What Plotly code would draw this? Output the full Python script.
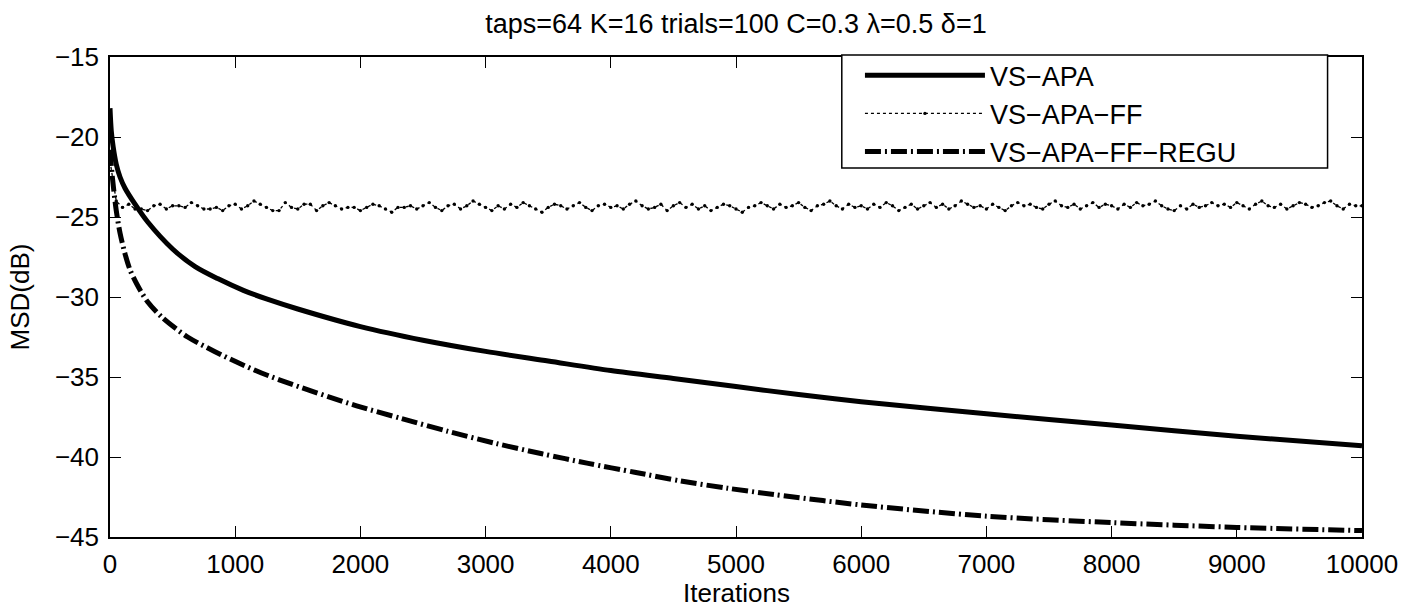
import plotly.graph_objects as go

# ---- data ----
apa_iter = [0, 10, 25, 50, 80, 120, 200, 300, 500, 680, 860, 1070, 1250, 1500, 2000, 2500,
            3000, 3500, 4000, 4500, 5000, 5500, 6000, 7000, 8000, 9000, 10000]
apa_msd = [-18.2, -19.6, -20.6, -21.7, -22.5, -23.2, -24.2, -25.3, -27.0, -28.1, -28.85,
           -29.6, -30.12, -30.75, -31.85, -32.7, -33.4, -34.0, -34.6, -35.1, -35.6, -36.1,
           -36.55, -37.3, -38.0, -38.7, -39.3]

regu_iter = [0, 20, 50, 80, 120, 160, 215, 300, 420, 620, 835, 1020, 1210, 1450, 1970, 2330,
             2700, 3080, 3450, 3820, 4190, 4560, 4930, 5310, 6000, 7000, 8000, 9000, 10000]
regu_msd = [-20.8, -22.6, -24.6, -26.0, -27.3, -28.3, -29.2, -30.3, -31.3, -32.5, -33.4,
            -34.1, -34.75, -35.45, -36.8, -37.6, -38.4, -39.15, -39.8, -40.4, -40.95, -41.5,
            -41.95, -42.35, -43.0, -43.7, -44.1, -44.4, -44.6]

ff_iter = list(range(0, 10001, 50))
ff_msd = [
    -21.5, -24.0, -24.4, -24.2, -24.5, -24.5, -24.6, -24.3, -24.2, -24.5,
    -24.3, -24.3, -24.4, -24.1, -24.3, -24.5, -24.5, -24.4, -24.6, -24.3,
    -24.2, -24.5, -24.3, -24.0, -24.2, -24.4, -24.6, -24.6, -24.1, -24.4,
    -24.5, -24.2, -24.2, -24.6, -24.3, -24.1, -24.3, -24.5, -24.4, -24.4,
    -24.6, -24.4, -24.2, -24.3, -24.5, -24.7, -24.4, -24.4, -24.3, -24.5,
    -24.3, -24.1, -24.4, -24.6, -24.3, -24.2, -24.5, -24.3, -24.0, -24.2,
    -24.4, -24.6, -24.3, -24.5, -24.2, -24.4, -24.1, -24.3, -24.5, -24.7,
    -24.4, -24.2, -24.3, -24.5, -24.3, -24.1, -24.4, -24.6, -24.3, -24.2,
    -24.4, -24.3, -24.5, -24.2, -24.0, -24.3, -24.5, -24.4, -24.2, -24.6,
    -24.3, -24.1, -24.4, -24.2, -24.5, -24.3, -24.6, -24.4, -24.2, -24.3,
    -24.5, -24.7, -24.4, -24.3, -24.1, -24.3, -24.5, -24.2, -24.4, -24.3,
    -24.1, -24.4, -24.6, -24.3, -24.2, -24.0, -24.3, -24.5, -24.2, -24.4,
    -24.3, -24.5, -24.2, -24.4, -24.1, -24.3, -24.6, -24.4, -24.2, -24.5,
    -24.3, -24.1, -24.4, -24.2, -24.5, -24.3, -24.0, -24.2, -24.4, -24.3,
    -24.5, -24.2, -24.4, -24.6, -24.3, -24.1, -24.3, -24.2, -24.4, -24.5,
    -24.2, -24.0, -24.3, -24.4, -24.2, -24.5, -24.3, -24.1, -24.4, -24.2,
    -24.3, -24.5, -24.2, -24.4, -24.1, -24.3, -24.2, -24.0, -24.3, -24.5,
    -24.6, -24.3, -24.5, -24.2, -24.4, -24.3, -24.1, -24.3, -24.2, -24.4,
    -24.1, -24.3, -24.5, -24.2, -24.0, -24.3, -24.4, -24.2, -24.5, -24.3,
    -24.1, -24.2, -24.4, -24.3, -24.1, -24.0, -24.3, -24.5, -24.2, -24.3,
    -24.3,
]

x_ticks = [0, 1000, 2000, 3000, 4000, 5000, 6000, 7000, 8000, 9000, 10000]
x_tick_text = ["0", "1000", "2000", "3000", "4000", "5000", "6000", "7000", "8000", "9000", "10000"]
y_ticks = [-45, -40, -35, -30, -25, -20, -15]

title_text = "taps=64 K=16 trials=100 C=0.3 λ=0.5 δ=1"
x_title = "Iterations"
y_title = "MSD(dB)"

FONT = "Liberation Sans, Arial, Helvetica, sans-serif"

fig = go.Figure()
fig.add_trace(go.Scatter(
    x=apa_iter, y=apa_msd, name="VS−APA", mode="lines",
    line=dict(color="black", width=5, shape="spline", smoothing=0.8)))
fig.add_trace(go.Scatter(
    x=ff_iter, y=ff_msd, name="VS−APA−FF", mode="lines+markers",
    line=dict(color="black", width=1.3, dash="dot"),
    marker=dict(color="black", size=3.4, symbol="circle")))
fig.add_trace(go.Scatter(
    x=regu_iter, y=regu_msd, name="VS−APA−FF−REGU", mode="lines",
    line=dict(color="black", width=5, dash="16px,4px,2px,4px", shape="spline", smoothing=0.8)))

axis_common = dict(
    showline=True, linecolor="black", linewidth=1.5, mirror="ticks",
    ticks="inside", ticklen=11, tickwidth=1, tickcolor="black",
    showgrid=False, zeroline=False,
    tickfont=dict(family=FONT, size=26, color="black"),
)

fig.update_xaxes(range=[0, 10000], tickvals=x_ticks, ticktext=x_tick_text,
                 ticklabelstandoff=3, **axis_common)
fig.update_yaxes(range=[-45, -15], tickvals=y_ticks, ticklabelstandoff=4,
                 title=dict(text=y_title, font=dict(family=FONT, size=26, color="black"), standoff=18),
                 **axis_common)

fig.update_layout(
    width=1410, height=609,
    margin=dict(l=110, r=43, t=57, b=72),
    paper_bgcolor="white", plot_bgcolor="white",
    title=dict(text=title_text, x=0.5, xanchor="center", y=0.962, yanchor="middle",
               xref="paper", font=dict(family=FONT, size=27, color="black")),
    legend=dict(x=0.599, y=1.012, xanchor="left", yanchor="top",
                bgcolor="rgba(0,0,0,0)", borderwidth=0,
                font=dict(family=FONT, size=27, color="black"),
                itemwidth=120, tracegroupgap=0),
    showlegend=True,
    shapes=[dict(type="rect", xref="paper", yref="paper",
                 x0=0.5845, x1=0.9725, y0=0.769, y1=1.004,
                 line=dict(color="black", width=1.5), fillcolor="white", layer="above")],
    annotations=[dict(text=x_title, xref="paper", yref="paper", x=0.5, y=-0.1167,
                      xanchor="center", yanchor="middle", showarrow=False,
                      font=dict(family=FONT, size=26, color="black"))],
)

fig.write_html(
    "out.html",
    config={"displayModeBar": False},
    post_script="document.body.style.margin='0';document.body.style.padding='0';"
                "document.documentElement.style.overflow='hidden';",
)
